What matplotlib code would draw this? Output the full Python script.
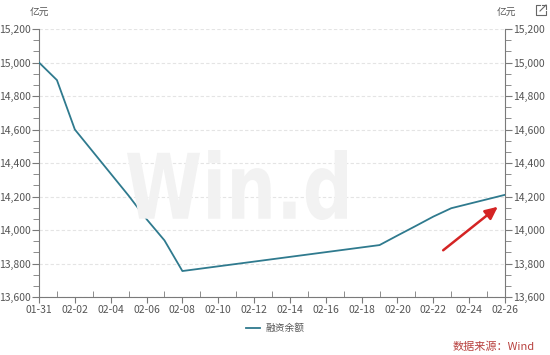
import pandas as pd
import matplotlib
matplotlib.use("Agg")
import matplotlib.pyplot as plt
import matplotlib.dates as mdates
from matplotlib.ticker import MultipleLocator, FuncFormatter
from matplotlib.textpath import TextPath
from matplotlib.patches import PathPatch
from matplotlib.font_manager import FontProperties
from matplotlib.transforms import Affine2D

plt.rcParams['font.family'] = ['Noto Sans CJK SC', 'DejaVu Sans']

# 融资余额 (亿元), trading days only
dates = ['2024-01-31', '2024-02-01', '2024-02-02', '2024-02-05', '2024-02-06',
         '2024-02-07', '2024-02-08', '2024-02-19', '2024-02-20', '2024-02-21',
         '2024-02-22', '2024-02-23', '2024-02-26']
balance = [15000, 14895, 14600, 14205, 14065, 13938, 13755,
           13910, 13967, 14023, 14080, 14130, 14210]
series_name = '融资余额'
unit = '亿元'
source = '数据来源：Wind'

df = pd.DataFrame({'date': pd.to_datetime(dates), 'balance': balance})

W, H = 550, 355
fig = plt.figure(figsize=(5.5, 3.55), dpi=100)
ax = fig.add_axes([39 / W, 1 - 297 / H, (505 - 39) / W, (297 - 29) / H])

# watermark
tp = TextPath((0, 0), 'Win.d', size=1, prop=FontProperties(family='DejaVu Sans', weight='bold'))
bb = tp.get_extents()
sx = (347 - 127) / bb.width / 100
sy = (220 - 150) / bb.height / 100
tr = Affine2D().translate(-bb.x0, -bb.y0).scale(sx, sy).translate(127 / 100, (H - 220) / 100) + fig.dpi_scale_trans
fig.patches.append(PathPatch(tp, transform=tr, facecolor='#f2f2f2', edgecolor='none', zorder=0))

ax.set_facecolor('none')
ax.plot(df['date'], df['balance'], color='#2f7a8e', linewidth=1.3, label=series_name, zorder=3)

ax.set_xlim(pd.Timestamp('2024-01-31'), pd.Timestamp('2024-02-26'))
ax.set_ylim(13600, 15200)

ax.xaxis.set_major_locator(mdates.DayLocator(bymonthday=[31] + list(range(2, 29, 2))))
ax.xaxis.set_minor_locator(mdates.DayLocator())
ax.xaxis.set_major_formatter(mdates.DateFormatter('%m-%d'))
ax.yaxis.set_major_locator(MultipleLocator(200))
ax.yaxis.set_minor_locator(MultipleLocator(200 / 3))
ax.yaxis.set_major_formatter(FuncFormatter(lambda v, p: f'{v:,.0f}'))

ax.grid(axis='y', which='major', linestyle=(0, (3, 2)), color='#e4e4e4', linewidth=0.8)
ax.spines['top'].set_visible(False)
for s in ['left', 'right', 'bottom']:
    ax.spines[s].set_color('#7a7a7a')
    ax.spines[s].set_linewidth(0.8)

ax.tick_params(axis='y', which='both', left=True, right=True, labelleft=True, labelright=True,
               direction='out', color='#7a7a7a', labelcolor='#555555', labelsize=7.5, pad=1)
ax.tick_params(axis='y', which='major', length=5)
ax.tick_params(axis='y', which='minor', length=4)
ax.tick_params(axis='x', which='major', direction='out', length=4, color='#7a7a7a',
               labelcolor='#555555', labelsize=7.5, pad=2)
ax.tick_params(axis='x', which='minor', direction='in', length=4, color='#7a7a7a')

fig.text(39 / W, 1 - 13 / H, unit, ha='center', va='center', fontsize=7, color='#555555')
fig.text(506 / W, 1 - 13 / H, unit, ha='center', va='center', fontsize=7, color='#555555')

# export icon
ix, iy = 536, 5
icon = [[(ix + 4, ix, ix, ix + 10, ix + 10), (iy, iy, iy + 10, iy + 10, iy + 6)],
        [(ix + 4, ix + 10), (iy + 6, iy)],
        [(ix + 6, ix + 10, ix + 10), (iy, iy, iy + 4)]]
for xs, ys in icon:
    fig.add_artist(plt.Line2D([x / W for x in xs], [1 - y / H for y in ys],
                              color='#666666', linewidth=0.8))

ax.legend(loc='center', bbox_to_anchor=(275 / W, 1 - 328 / H), bbox_transform=fig.transFigure,
          frameon=False, fontsize=7, handlelength=1.5, handletextpad=0.5, labelcolor='#555555')

fig.text(535 / W, 1 - 347 / H, source, ha='right', va='center', fontsize=8, color='#b8413f')

# red arrow
ax.annotate('', xy=(500 / W, 1 - 205 / H), xytext=(441 / W, 1 - 252 / H),
            xycoords='figure fraction', textcoords='figure fraction',
            arrowprops=dict(arrowstyle='-|>,head_length=0.75,head_width=0.35', color='#d42424', lw=1.8))

fig.savefig('out.png', dpi=100, facecolor='white')
